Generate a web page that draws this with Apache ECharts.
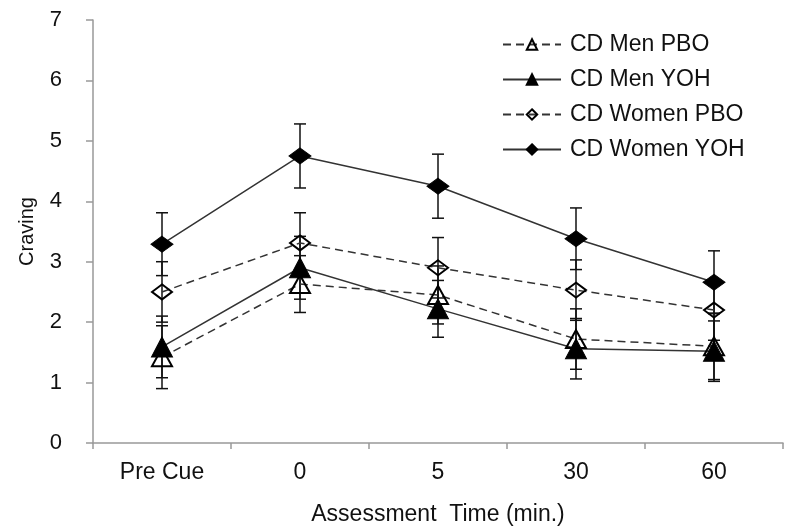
<!DOCTYPE html>
<html>
<head>
<meta charset="utf-8">
<script src="https://cdn.jsdelivr.net/npm/echarts@6/dist/echarts.min.js"></script>
<style>
  html, body { margin: 0; padding: 0; background: #fff; }
  #main { width: 785px; height: 527px; }
</style>
</head>
<body>
<div id="main"></div>
<script>
// data
var categories = ['Pre Cue', '0', '5', '30', '60'];
var menPbo = [1.42, 2.63, 2.45, 1.72, 1.6];
var menYoh = [1.59, 2.9, 2.22, 1.56, 1.52];
var womenPbo = [2.5, 3.31, 2.9, 2.53, 2.2];
var womenYoh = [3.29, 4.75, 4.25, 3.38, 2.66];
var menPboErr = [0.52, 0.47, 0.48, 0.5, 0.55];
var menYohErr = [0.51, 0.52, 0.47, 0.5, 0.5];
var womenPboErr = [0.5, 0.5, 0.5, 0.5, 0.5];
var womenYohErr = [0.52, 0.53, 0.53, 0.51, 0.52];

var FONT = 'Liberation Sans, Arial, sans-serif';
var myChart = echarts.init(document.getElementById('main'));

function errData(vals, errs) {
    return vals.map(function (v, i) { return [i, v - errs[i], v + errs[i]]; });
}

function renderErr(params, api) {
    var lo = api.coord([api.value(0), api.value(1)]);
    var hi = api.coord([api.value(0), api.value(2)]);
    var w = 6;
    var st = { stroke: '#111', lineWidth: 1.5 };
    return {
        type: 'group',
        children: [
            { type: 'line', shape: { x1: lo[0], y1: lo[1], x2: hi[0], y2: hi[1] }, style: st },
            { type: 'line', shape: { x1: lo[0] - w, y1: lo[1], x2: lo[0] + w, y2: lo[1] }, style: st },
            { type: 'line', shape: { x1: hi[0] - w, y1: hi[1], x2: hi[0] + w, y2: hi[1] }, style: st }
        ]
    };
}

function errSeries(vals, errs) {
    return {
        type: 'custom',
        renderItem: renderErr,
        data: errData(vals, errs),
        encode: { x: 0, y: [1, 2] },
        z: 3,
        silent: true
    };
}

function lineSeries(name, vals, dashed, filled, symbol, size) {
    return {
        name: name,
        type: 'line',
        data: vals,
        symbol: symbol,
        symbolSize: size,
        z: 4,
        lineStyle: { color: '#333', width: 1.5, type: dashed ? [8, 5] : 'solid' },
        itemStyle: filled
            ? { color: '#000', borderColor: '#000', borderWidth: 1 }
            : { color: 'rgba(255,255,255,0)', borderColor: '#000', borderWidth: 2 }
    };
}

option = {
    backgroundColor: '#fff',
    animation: false,
    grid: { left: 93, right: 2, top: 20, bottom: 84, containLabel: false, outerBoundsMode: 'none' },
    legend: {
        orient: 'vertical',
        left: 497,
        top: 28,
        itemWidth: 58,
        itemHeight: 13,
        itemGap: 12,
        textStyle: { fontFamily: FONT, fontSize: 23, color: '#111', lineHeight: 22, padding: [0, 0, 0, 4] },
        data: ['CD Men PBO', 'CD Men YOH', 'CD Women PBO', 'CD Women YOH']
    },
    xAxis: {
        type: 'category',
        data: categories,
        boundaryGap: true,
        name: 'Assessment  Time (min.)',
        nameLocation: 'middle',
        nameGap: 60,
        nameTextStyle: { fontFamily: FONT, fontSize: 23, color: '#111' },
        axisLine: { lineStyle: { color: '#999', width: 1.5 } },
        axisTick: { show: true, length: 6, lineStyle: { color: '#999', width: 1.5 } },
        axisLabel: { fontFamily: FONT, fontSize: 23, color: '#111', margin: 18 },
        splitLine: { show: false }
    },
    yAxis: {
        type: 'value',
        min: 0,
        max: 7,
        interval: 1,
        name: 'Craving',
        nameLocation: 'middle',
        nameGap: 56,
        nameTextStyle: { fontFamily: FONT, fontSize: 20, color: '#111' },
        axisLine: { show: true, lineStyle: { color: '#999', width: 1.5 } },
        axisTick: { show: true, length: 7, lineStyle: { color: '#999', width: 1.5 } },
        axisLabel: { fontFamily: FONT, fontSize: 22, color: '#111', margin: 31 },
        splitLine: { show: false }
    },
    series: [
        errSeries(menPbo, menPboErr),
        errSeries(menYoh, menYohErr),
        errSeries(womenPbo, womenPboErr),
        errSeries(womenYoh, womenYohErr),
        lineSeries('CD Men PBO', menPbo, true, false, 'triangle', [20, 18]),
        lineSeries('CD Men YOH', menYoh, false, true, 'triangle', [21, 20]),
        lineSeries('CD Women PBO', womenPbo, true, false, 'diamond', [20, 15]),
        lineSeries('CD Women YOH', womenYoh, false, true, 'diamond', [22, 16])
    ]
};
myChart.setOption(option);
</script>
</body>
</html>
